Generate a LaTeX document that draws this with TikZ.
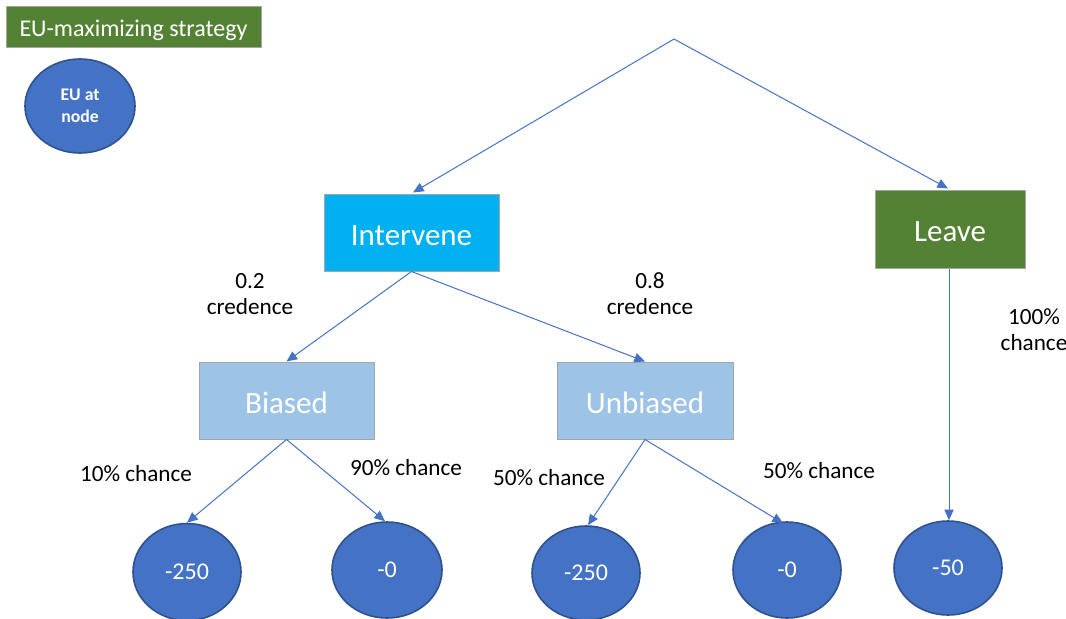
\documentclass[tikz,border=0pt]{standalone}
\usepackage{fontspec}
\setmainfont{Carlito}
\usetikzlibrary{shapes.geometric,arrows.meta,calc}
\definecolor{egreen}{HTML}{548235}
\definecolor{ecyan}{HTML}{00B0F0}
\definecolor{elblue}{HTML}{9DC3E6}
\definecolor{eblue}{HTML}{4472C4}
\definecolor{eborder}{HTML}{2F528F}
\definecolor{boxline}{HTML}{A5A5A5}
\newcommand{\fs}[2]{\fontsize{#1pt}{#2pt}\selectfont}
\newcommand{\dn}[2]{\raisebox{-#1pt}[\height][\depth]{#2}}
\tikzset{
  box/.style={rectangle, draw=boxline, line width=0.75pt, text=white, inner sep=0pt, font=\fs{23.25}{28}, text depth=0pt},
  outc/.style={ellipse, fill=eblue, draw=eborder, line width=1.2pt, text=white, inner sep=0pt, font=\fs{18}{22}},
  lbl/.style={text=black, font=\fs{17.4}{19.5}, align=center, inner sep=0pt},
  arr/.style={draw=eblue, line width=0.75pt, -{Triangle[length=8pt,width=7pt]}},
}
\begin{document}
\begin{tikzpicture}[x=0.75pt,y=-0.75pt]
\useasboundingbox (0,0) rectangle (1066,618);
% legend
\node[rectangle, fill=egreen, draw=boxline, line width=0.5pt, text=white, inner sep=0pt, font=\fs{18}{22}, text depth=0pt,
  minimum width=191.25pt, minimum height=30.75pt] (leg) at (133.5,26.5) {\dn{1.5}{EU-maximizing strategy}};
\node[outc, minimum width=82.5pt, minimum height=70.5pt, font=\fs{13.3}{16.5}\bfseries, align=center] (legn) at (80,106) {EU at\\node};
% decision boxes
\coordinate (apex) at (674,39);
\node[box, fill=ecyan, minimum width=131.25pt, minimum height=57.75pt] (int) at (411.5,232.5) {\dn{2.5}{Intervene}};
\node[box, fill=egreen, minimum width=112.5pt, minimum height=58.5pt] (lv) at (950,229) {\dn{2}{Leave}};
\node[box, fill=elblue, minimum width=131.25pt, minimum height=57.75pt] (bia) at (286.5,400.5) {\dn{1.5}{Biased}};
\node[box, fill=elblue, minimum width=132pt, minimum height=57.75pt] (unb) at (645,400.5) {\dn{1.5}{Unbiased}};
% outcomes
\node[outc, minimum width=81pt, minimum height=72.75pt] (o1) at (187,572) {-250};
\node[outc, minimum width=82.5pt, minimum height=72pt] (o2) at (387,570) {-0};
\node[outc, minimum width=81pt, minimum height=70.5pt] (o3) at (586,573) {-250};
\node[outc, minimum width=81pt, minimum height=72pt] (o4) at (787,570) {-0};
\node[outc, minimum width=81pt, minimum height=70.5pt] (o5) at (948,568) {-50};
% connectors
\draw[arr] (apex) -- ($(int.north)+(1.5,-1)$);
\draw[arr] (apex) -- ($(lv.north)+(-2,-1)$);
\draw[arr] (int.south) -- (bia.north);
\draw[arr] (int.south) -- (unb.north);
\draw[arr] (bia.south) -- (o1.north);
\draw[arr] (bia.south) -- ($(o2.north)+(-2,0)$);
\draw[arr] (unb.south) -- ($(o3.north)+(2,0)$);
\draw[arr] (unb.south) -- ($(o4.north)+(-4,2)$);
\coordinate (lvb) at ($(lv.south)+(-1,0)$);
\draw[arr] (lvb) -- (lvb |- o5.north);
% labels
\node[lbl] (l1) at (250,294) {0.2\\credence};
\node[lbl] (l2) at (650,294) {0.8\\credence};
\node[lbl] (l3) at (1034,330) {100\%\\chance};
\node[lbl] (l4) at (136,474) {10\% chance};
\node[lbl] (l5) at (406,468) {90\% chance};
\node[lbl] (l6) at (549,478) {50\% chance};
\node[lbl] (l7) at (819,471) {50\% chance};
\end{tikzpicture}
\end{document}
